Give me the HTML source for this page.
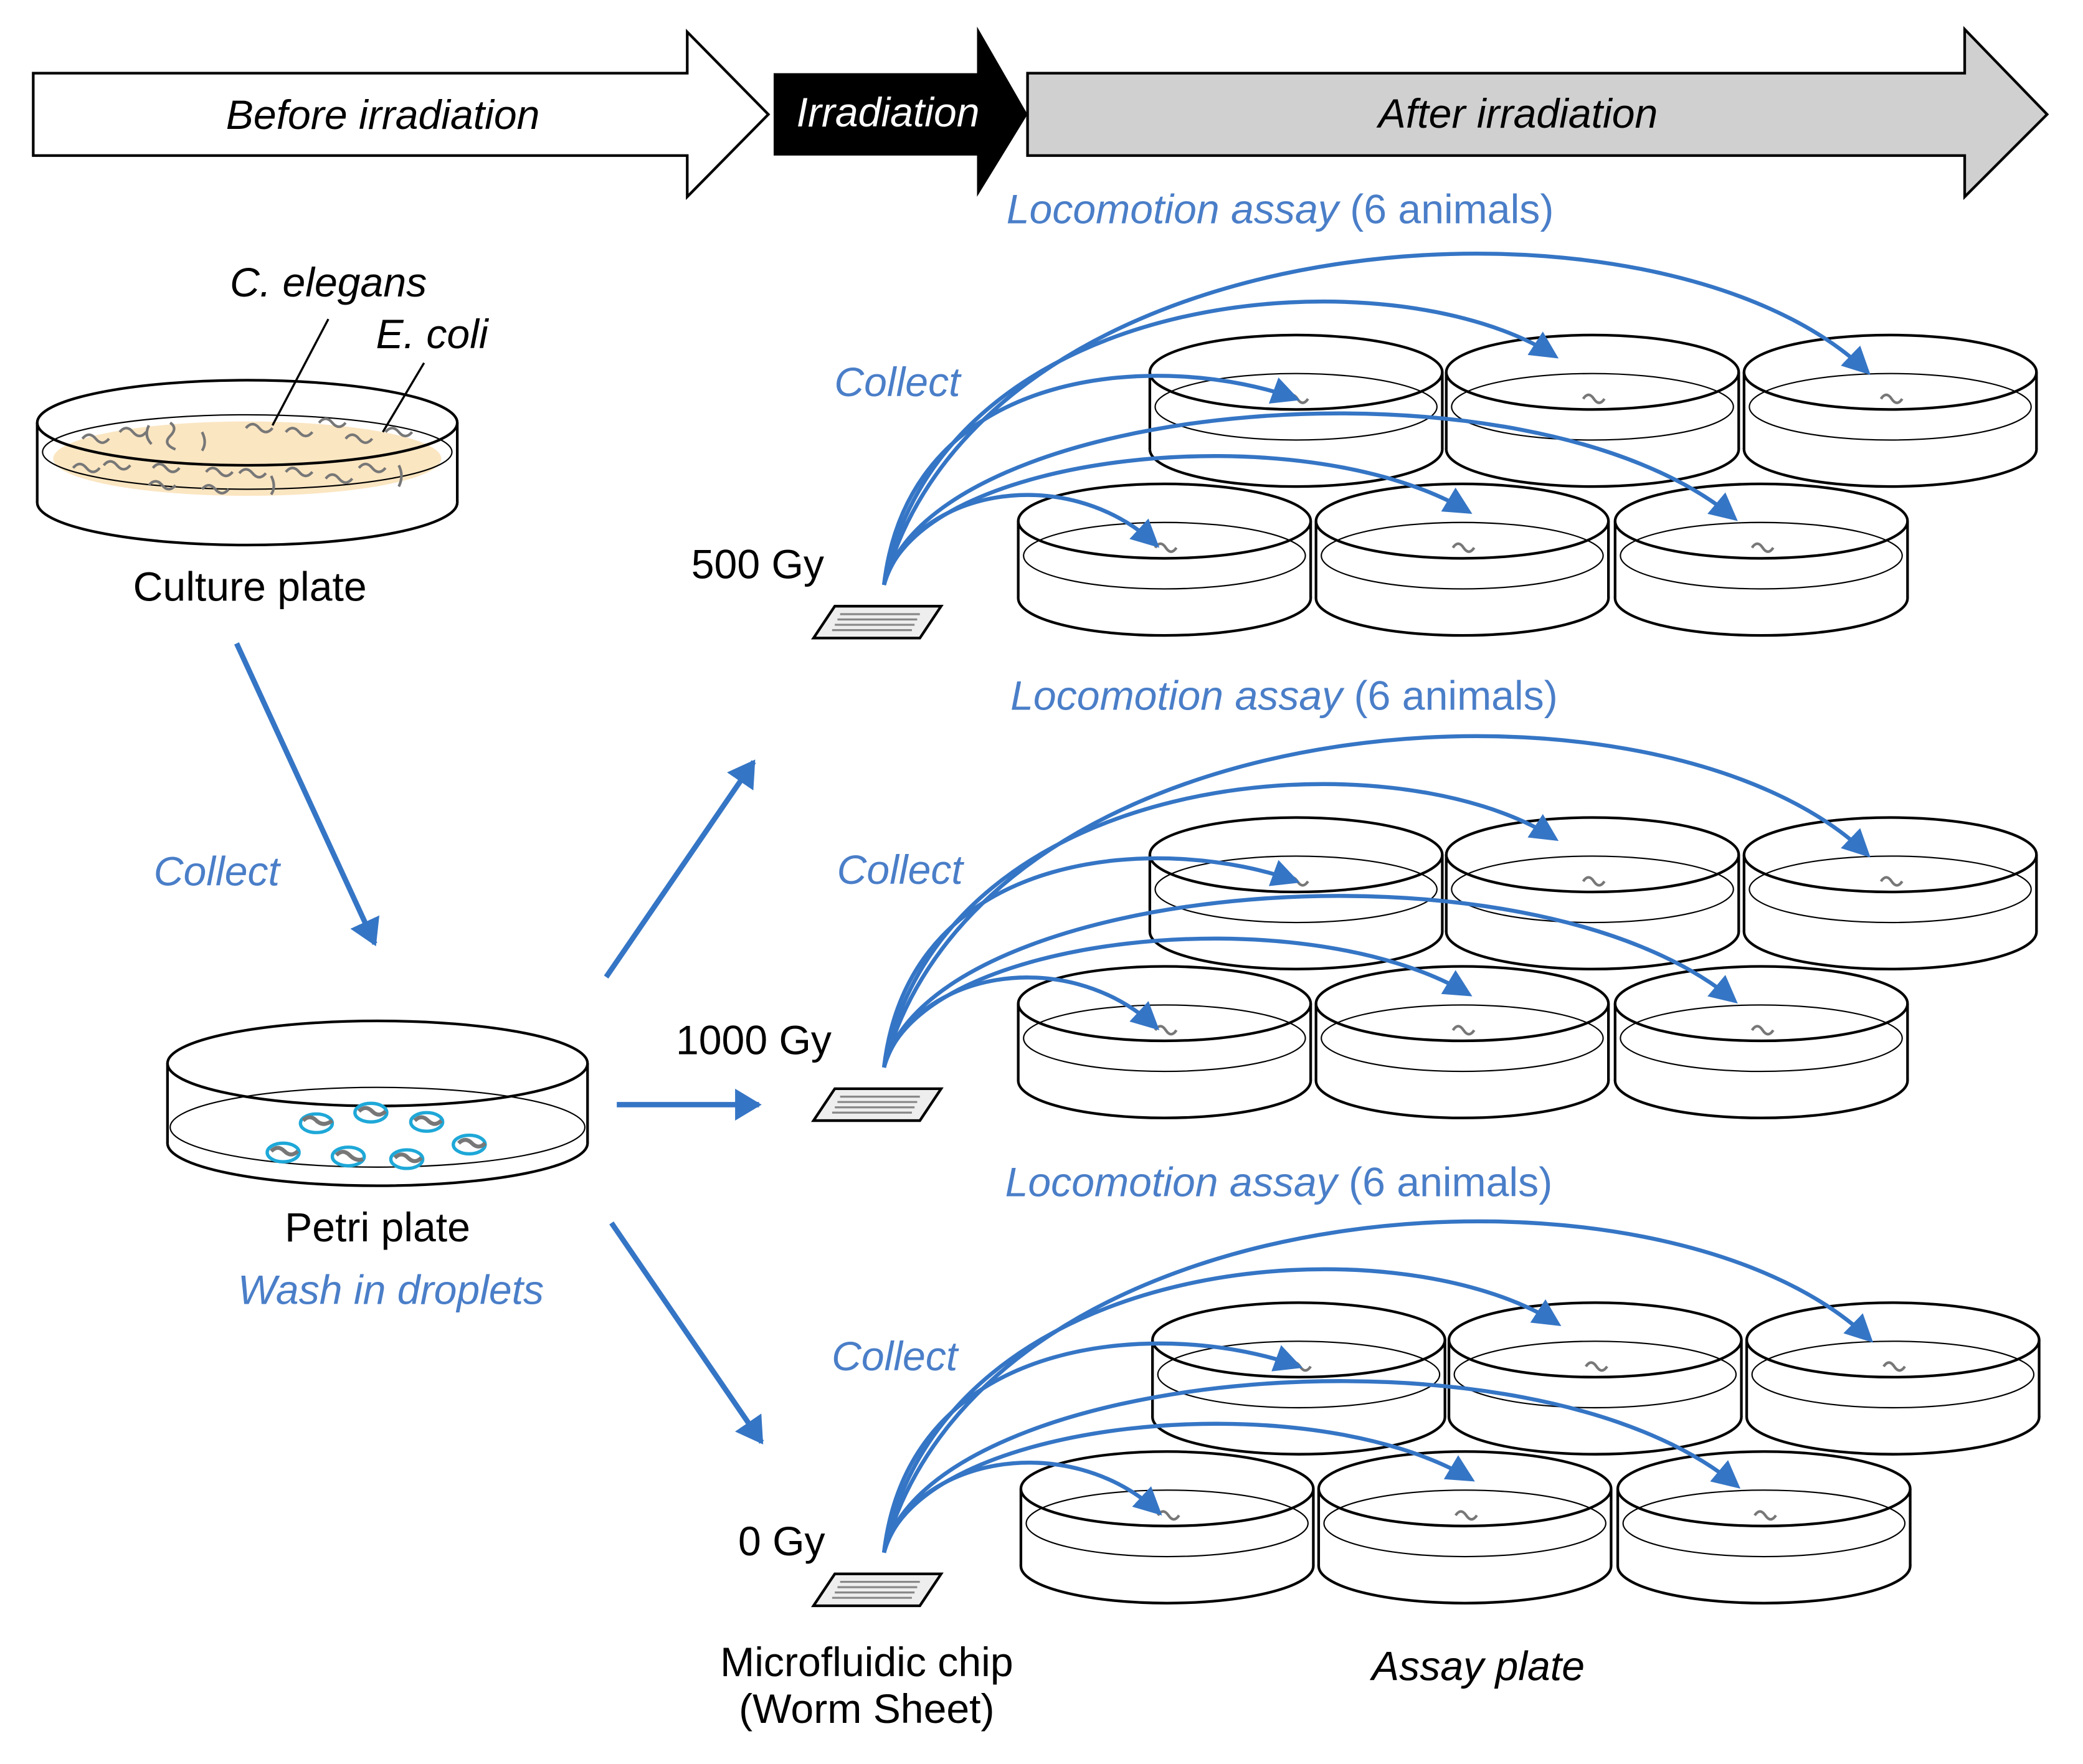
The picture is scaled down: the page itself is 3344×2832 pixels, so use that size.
<!DOCTYPE html>
<html><head><meta charset="utf-8"><style>
html,body{margin:0;padding:0;background:#fff}
svg{display:block}
text{font-family:"Liberation Sans",Arial,sans-serif}
.b{fill:#4a7ec8}
.it{font-style:italic}
</style></head><body>
<svg id="s" width="3344" height="2832" viewBox="0 0 1567 1327" xmlns="http://www.w3.org/2000/svg">
<defs>
<marker id="ah" markerWidth="8" markerHeight="8" refX="6" refY="4" orient="auto" markerUnits="strokeWidth">
<path d="M0,0.5 L7,4 L0,7.5 z" fill="#3575c5"/></marker>
<marker id="ah2" markerWidth="6" markerHeight="6" refX="4.5" refY="3" orient="auto" markerUnits="strokeWidth">
<path d="M0,0 L5,3 L0,6 z" fill="#3575c5"/></marker>
</defs>
<polygon points="25,55 517,55 517,24 578,86 517,148 517,117 25,117" fill="#fff" stroke="#000" stroke-width="2"/>
<polygon points="582,55 735,55 735,20 773,86 735,148 735,117 582,117" fill="#000"/>
<polygon points="773,55 1478,55 1478,22 1540,86 1478,148 1478,117 773,117" fill="#d0d0d0" stroke="#000" stroke-width="2"/>
<text x="288" y="97" font-size="31" text-anchor="middle" class="it">Before irradiation</text>
<text x="668" y="95" font-size="31" text-anchor="middle" class="it" fill="#fff">Irradiation</text>
<text x="1142" y="96" font-size="31" text-anchor="middle" class="it">After irradiation</text>

<ellipse cx="186" cy="378" rx="158" ry="32" fill="#fff" stroke="#000" stroke-width="2"/>
<rect x="28" y="318" width="316" height="60" fill="#fff"/>
<line x1="28" y1="318" x2="28" y2="378" stroke="#000" stroke-width="2"/>
<line x1="344" y1="318" x2="344" y2="378" stroke="#000" stroke-width="2"/>
<ellipse cx="186" cy="345" rx="146" ry="28" fill="#fbe6c2"/>
<ellipse cx="186" cy="318" rx="158" ry="32" fill="none" stroke="#000" stroke-width="2"/>
<ellipse cx="186" cy="340" rx="154" ry="28" fill="none" stroke="#000" stroke-width="1"/>
<g stroke="#777" stroke-width="2" fill="none">
<path d="M62,330 q5,-6 10,0 t10,0"/><path d="M90,325 q5,-6 10,0 t10,0"/><path d="M112,320 q-4,8 2,14"/><path d="M128,318 q6,4 0,10 t4,10"/><path d="M152,325 q4,8 0,14"/><path d="M185,322 q5,-6 10,0 t10,0"/><path d="M215,325 q5,-6 10,0 t10,0"/><path d="M240,318 q5,-6 10,0 t10,0"/><path d="M260,330 q5,-6 10,0 t10,0"/><path d="M290,325 q5,-6 10,0 t10,0"/>
<path d="M55,352 q5,-6 10,0 t10,0"/><path d="M78,350 q5,-6 10,0 t10,0"/><path d="M115,352 q5,-6 10,0 t10,0"/><path d="M112,365 q5,-6 10,0 t10,0"/><path d="M155,355 q5,-6 10,0 t10,0"/><path d="M152,368 q5,-6 10,0 t10,0"/><path d="M180,356 q5,-6 10,0 t10,0"/><path d="M204,358 q4,8 0,14"/><path d="M215,355 q5,-6 10,0 t10,0"/><path d="M245,360 q5,-6 10,0 t10,0"/><path d="M270,352 q5,-6 10,0 t10,0"/><path d="M300,350 q4,8 0,16"/>
</g>
<line x1="247" y1="240" x2="205" y2="320" stroke="#000" stroke-width="1.6"/>
<line x1="319" y1="273" x2="288" y2="325" stroke="#000" stroke-width="1.6"/>
<text x="247" y="223" font-size="31" text-anchor="middle" class="it">C. elegans</text>
<text x="325" y="262" font-size="31" text-anchor="middle" class="it">E. coli</text>
<text x="188" y="452" font-size="31" text-anchor="middle">Culture plate</text>

<g stroke="#3575c5" stroke-width="4" fill="none" marker-end="url(#ah2)">
<line x1="178" y1="484" x2="282" y2="710"/>
<line x1="456" y1="735" x2="567" y2="573"/>
<line x1="464" y1="831" x2="571" y2="831"/>
<line x1="460" y1="920" x2="573" y2="1085"/>
</g>
<text x="163" y="666" font-size="31" text-anchor="middle" class="it b">Collect</text>

<ellipse cx="284" cy="860" rx="158" ry="32" fill="#fff" stroke="#000" stroke-width="2"/>
<rect x="126" y="800" width="316" height="60" fill="#fff"/>
<line x1="126" y1="800" x2="126" y2="860" stroke="#000" stroke-width="2"/>
<line x1="442" y1="800" x2="442" y2="860" stroke="#000" stroke-width="2"/>
<ellipse cx="284" cy="848" rx="156" ry="30" fill="none" stroke="#000" stroke-width="1"/>
<ellipse cx="284" cy="800" rx="158" ry="32" fill="none" stroke="#000" stroke-width="2"/>
<g stroke="#1ea8d8" stroke-width="2.5" fill="#fff">
<ellipse cx="238" cy="845" rx="12" ry="7"/><ellipse cx="279" cy="837" rx="12" ry="7"/><ellipse cx="321" cy="844" rx="12" ry="7"/><ellipse cx="213" cy="867" rx="12" ry="7"/><ellipse cx="262" cy="870" rx="12" ry="7"/><ellipse cx="306" cy="872" rx="12" ry="7"/><ellipse cx="353" cy="861" rx="12" ry="7"/>
</g>
<g stroke="#777" stroke-width="3" fill="none">
<path d="M228,843 q5,-5 10,0 t12,0"/><path d="M270,836 q5,-5 10,0 t10,0"/><path d="M312,843 q5,-5 10,0 t10,0"/><path d="M204,866 q5,-5 10,0 t10,0"/><path d="M253,869 q5,-5 10,0 t10,3"/><path d="M297,871 q5,-5 10,0 t10,0"/><path d="M345,860 q5,-5 10,0 t10,0"/>
</g>
<text x="284" y="934" font-size="31" text-anchor="middle">Petri plate</text>
<text x="294" y="981" font-size="31" text-anchor="middle" class="it b">Wash in droplets</text>

<text x="570" y="435" font-size="31" text-anchor="middle">500 Gy</text>
<text x="567" y="793" font-size="31" text-anchor="middle">1000 Gy</text>
<text x="588" y="1170" font-size="31" text-anchor="middle">0 Gy</text>
<text x="652" y="1261" font-size="31" text-anchor="middle">Microfluidic chip</text>
<text x="652" y="1296" font-size="31" text-anchor="middle">(Worm Sheet)</text>
<text x="1112" y="1264" font-size="31" text-anchor="middle" class="it">Assay plate</text>
<g id="groups"></g>
</svg>
<script>
var g=document.getElementById('groups'),h='';
function plate(cx,cy){
 var rx=110,ry=28,H=58;
 return '<ellipse cx="'+cx+'" cy="'+(cy+H)+'" rx="'+rx+'" ry="'+ry+'" fill="#fff" stroke="#000" stroke-width="2"/>'+
 '<rect x="'+(cx-rx)+'" y="'+cy+'" width="'+(2*rx)+'" height="'+H+'" fill="#fff"/>'+
 '<line x1="'+(cx-rx)+'" y1="'+cy+'" x2="'+(cx-rx)+'" y2="'+(cy+H)+'" stroke="#000" stroke-width="2"/>'+
 '<line x1="'+(cx+rx)+'" y1="'+cy+'" x2="'+(cx+rx)+'" y2="'+(cy+H)+'" stroke="#000" stroke-width="2"/>'+
 '<ellipse cx="'+cx+'" cy="'+(cy+26)+'" rx="'+(rx-4)+'" ry="'+(ry-3)+'" fill="none" stroke="#000" stroke-width="1"/>'+
 '<ellipse cx="'+cx+'" cy="'+cy+'" rx="'+rx+'" ry="'+ry+'" fill="none" stroke="#000" stroke-width="2"/>'+
 '<path d="M'+(cx-7)+','+(cy+20)+' q4,-6 8,0 t8,0" stroke="#777" stroke-width="2" fill="none"/>';
}
var offs=[0,363,728];
var curves=[
 [740,160,1250,130,1405,280],
 [710,210,1050,190,1170,268],
 [685,270,880,265,975,300],
 [700,300,1150,260,1305,390],
 [690,340,980,310,1105,385],
 [685,370,800,345,870,410]
];
offs.forEach(function(o,i){
 var dx=(i==2)?2:0;
 [975,1198,1422].forEach(function(x){h+=plate(x+dx,280+o);});
 [876,1100,1325].forEach(function(x){h+=plate(x+dx,392+o);});
 var cy=468+o;
 h+='<polygon points="612,'+(cy+12)+' 628,'+(cy-12)+' 708,'+(cy-12)+' 692,'+(cy+12)+'" fill="#eee" stroke="#000" stroke-width="2"/>';
 for(var k=0;k<4;k++){h+='<line x1="'+(632-k*2)+'" y1="'+(cy-6+k*4)+'" x2="'+(692-k*2)+'" y2="'+(cy-6+k*4)+'" stroke="#888" stroke-width="1.5"/>';}
 var sx=665,sy=440+o;
 h+='<g stroke="#3575c5" stroke-width="3" fill="none">';
 curves.forEach(function(c){
  h+='<path d="M'+sx+','+sy+' C'+c[0]+','+(c[1]+o)+' '+(c[2]+dx)+','+(c[3]+o)+' '+(c[4]+dx)+','+(c[5]+o)+'" marker-end="url(#ah)"/>';
 });
 h+='</g>';
 h+='<text x="'+[675,677,673][i]+'" y="'+[298,665,1031][i]+'" font-size="31" text-anchor="middle" class="it b">Collect</text>';
 h+='<text x="'+[963,966,962][i]+'" y="'+[168,534,900][i]+'" font-size="31" text-anchor="middle" class="b"><tspan class="it">Locomotion assay</tspan> (6 animals)</text>';
});
g.innerHTML=h;
</script>
</body></html>
